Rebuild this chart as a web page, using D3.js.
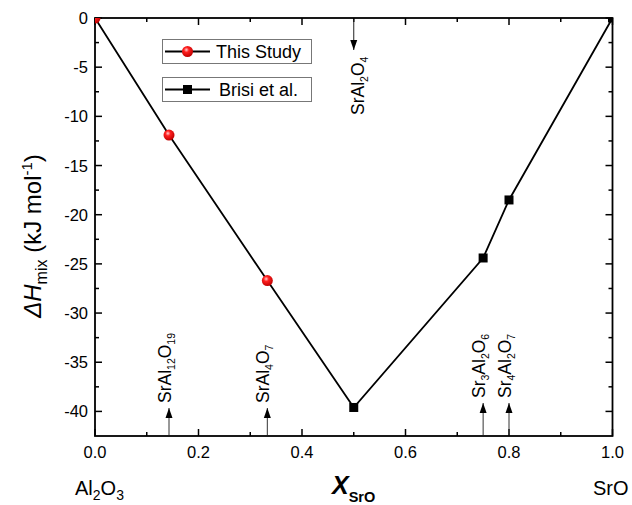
<!DOCTYPE html>
<html><head><meta charset="utf-8">
<script src="https://cdn.jsdelivr.net/npm/d3@7"></script>
<style>body{margin:0;background:#fff}svg{display:block}text{font-family:"Liberation Sans",Arial,sans-serif}</style>
</head><body>
<svg id="c" width="632" height="505"></svg>
<script>
const studyX = [0, 0.143, 0.333];
const studyY = [0, -11.9, -26.7];
const brisiX = [0.5, 0.75, 0.8, 1.0];
const brisiY = [-39.6, -24.4, -18.5, 0];
const xTicks = [0, 0.2, 0.4, 0.6, 0.8, 1.0];
const yTicks = [0, -5, -10, -15, -20, -25, -30, -35, -40];
const compounds = [
  {parts:[["Sr",0],["Al",0],["2",1],["O",0],["4",1]], x:0.5, side:"top"},
  {parts:[["Sr",0],["Al",0],["12",1],["O",0],["19",1]], x:0.143, side:"bottom"},
  {parts:[["Sr",0],["Al",0],["4",1],["O",0],["7",1]], x:0.333, side:"bottom"},
  {parts:[["Sr",0],["3",1],["Al",0],["2",1],["O",0],["6",1]], x:0.75, side:"bottom"},
  {parts:[["Sr",0],["4",1],["Al",0],["2",1],["O",0],["7",1]], x:0.8, side:"bottom"}
];
const legendNames = ["This Study", "Brisi et al."];

const svg = d3.select("#c");
const L = 95, R = 612.5, T = 18, B = 436;
const x = d3.scaleLinear().domain([0, 1]).range([L, R]);
const y = d3.scaleLinear().domain([-42.5, 0]).range([B, T]);

const defs = svg.append("defs");
const grad = defs.append("radialGradient").attr("id","rg").attr("cx","0.4").attr("cy","0.35").attr("r","0.65");
grad.append("stop").attr("offset","0").attr("stop-color","#ffd0d0");
grad.append("stop").attr("offset","0.35").attr("stop-color","#ff2020");
grad.append("stop").attr("offset","1").attr("stop-color","#c00000");
defs.append("clipPath").attr("id","clip").append("rect").attr("x",L).attr("y",T).attr("width",R-L).attr("height",B-T);
defs.append("marker").attr("id","ah").attr("viewBox","0 0 10 10").attr("refX",10).attr("refY",5)
  .attr("markerWidth",10).attr("markerHeight",10).attr("markerUnits","userSpaceOnUse").attr("orient","auto")
  .append("path").attr("d","M0,1.5 L10,5 L0,8.5 Z").attr("fill","#000");

function frame(){
  const g = svg.append("g");
  const minorX = d3.range(0.1, 1, 0.2);
  const minorY = d3.range(-2.5, -42.5, -5);
  xTicks.forEach(v=>{
    g.append("line").attr("x1",x(v)).attr("x2",x(v)).attr("y1",B).attr("y2",B-7);
    g.append("line").attr("x1",x(v)).attr("x2",x(v)).attr("y1",T).attr("y2",T+7);
  });
  minorX.forEach(v=>{
    g.append("line").attr("x1",x(v)).attr("x2",x(v)).attr("y1",B).attr("y2",B-4);
    g.append("line").attr("x1",x(v)).attr("x2",x(v)).attr("y1",T).attr("y2",T+4);
  });
  yTicks.forEach(v=>{
    g.append("line").attr("x1",L).attr("x2",L+7).attr("y1",y(v)).attr("y2",y(v));
    g.append("line").attr("x1",R).attr("x2",R-7).attr("y1",y(v)).attr("y2",y(v));
  });
  minorY.forEach(v=>{
    g.append("line").attr("x1",L).attr("x2",L+4).attr("y1",y(v)).attr("y2",y(v));
    g.append("line").attr("x1",R).attr("x2",R-4).attr("y1",y(v)).attr("y2",y(v));
  });
  g.selectAll("line").attr("stroke","#000").attr("stroke-width",1.5);
  g.append("rect").attr("x",L).attr("y",T).attr("width",R-L).attr("height",B-T)
    .attr("fill","none").attr("stroke","#000").attr("stroke-width",1.8);
}
frame();

svg.append("g").selectAll("text").data(xTicks).join("text")
  .attr("x",d=>x(d)).attr("y",458).attr("text-anchor","middle").attr("font-size",16.5).text(d3.format(".1f"));
svg.append("g").selectAll("text").data(yTicks).join("text")
  .attr("x",88).attr("y",d=>y(d)+6).attr("text-anchor","end").attr("font-size",16.5).text(d=>d);

const pts = studyX.map((v,i)=>[v,studyY[i]]).concat(brisiX.map((v,i)=>[v,brisiY[i]]));
svg.append("path").datum(pts).attr("d",d3.line().x(d=>x(d[0])).y(d=>y(d[1])))
  .attr("fill","none").attr("stroke","#000").attr("stroke-width",1.8);

const mk = svg.append("g").attr("clip-path","url(#clip)");
mk.selectAll("circle").data(studyX.map((v,i)=>[v,studyY[i]])).join("circle")
  .attr("cx",d=>x(d[0])).attr("cy",d=>y(d[1])).attr("r",5.5).attr("fill","url(#rg)");
mk.selectAll("rect").data(brisiX.map((v,i)=>[v,brisiY[i]])).join("rect")
  .attr("x",d=>x(d[0])-4.5).attr("y",d=>y(d[1])-4.5).attr("width",9).attr("height",9).attr("fill","#000");

function rotLabel(parts, px, py, size){
  const t = svg.append("text").attr("transform",`translate(${px},${py}) rotate(-90)`).attr("font-size",size);
  let prev = 0;
  parts.forEach(p=>{
    const s = t.append("tspan").text(p[0]);
    const dy = p[1] ? 4 : 0;
    if(p[1]) s.attr("font-size",size*0.6);
    s.attr("dy", dy - prev);
    prev = dy;
  });
  return t;
}
compounds.forEach(c=>{
  const cx = x(c.x);
  if(c.side==="top"){
    svg.append("line").attr("x1",cx).attr("x2",cx).attr("y1",T+1).attr("y2",50)
      .attr("stroke","#222").attr("stroke-width",1).attr("marker-end","url(#ah)");
    rotLabel(c.parts, cx+10, 115, 17.5);
  } else {
    const tip = c.x>0.6 ? 403 : 408;
    svg.append("line").attr("x1",cx).attr("x2",cx).attr("y1",B-1).attr("y2",tip)
      .attr("stroke","#333").attr("stroke-width",1).attr("marker-end","url(#ah)");
    rotLabel(c.parts, cx+2, tip-5, 17.5);
  }
});

legendNames.forEach((n,i)=>{
  const by = 39 + i*38;
  const g = svg.append("g");
  g.append("rect").attr("x",162.5).attr("y",by+0.5).attr("width",149).attr("height",24)
    .attr("fill","#fff").attr("stroke","#777").attr("stroke-width",1);
  g.append("line").attr("x1",165).attr("x2",210).attr("y1",by+12.5).attr("y2",by+12.5)
    .attr("stroke","#000").attr("stroke-width",1.8);
  if(i===0) g.append("circle").attr("cx",187.5).attr("cy",by+12.5).attr("r",5.5).attr("fill","url(#rg)");
  else g.append("rect").attr("x",183).attr("y",by+8).attr("width",9).attr("height",9).attr("fill","#000");
  g.append("text").attr("x",i===0?216:219).attr("y",by+19).attr("font-size",18).text(n);
});

const yt = svg.append("text").attr("transform","translate(41,236) rotate(-90)").attr("text-anchor","middle").attr("font-size",24);
yt.append("tspan").attr("font-style","italic").text("ΔH");
yt.append("tspan").attr("font-size",16).attr("dy",6).text("mix");
yt.append("tspan").attr("dy",-6).text(" (kJ mol");
yt.append("tspan").attr("font-size",15).attr("dy",-9).text("-1");
yt.append("tspan").attr("dy",9).text(")");

const xt = svg.append("text").attr("x",332).attr("y",494).attr("font-weight","bold");
xt.append("tspan").attr("font-style","italic").attr("font-size",25).text("X");
xt.append("tspan").attr("font-size",14.5).attr("dy",8).text("SrO");

const al = svg.append("text").attr("x",75).attr("y",495).attr("font-size",20);
al.append("tspan").text("Al");
al.append("tspan").attr("font-size",14).attr("dy",5).text("2");
al.append("tspan").attr("dy",-5).text("O");
al.append("tspan").attr("font-size",14).attr("dy",5).text("3");
svg.append("text").attr("x",593).attr("y",495).attr("font-size",20).text("SrO");
</script>
</body></html>
